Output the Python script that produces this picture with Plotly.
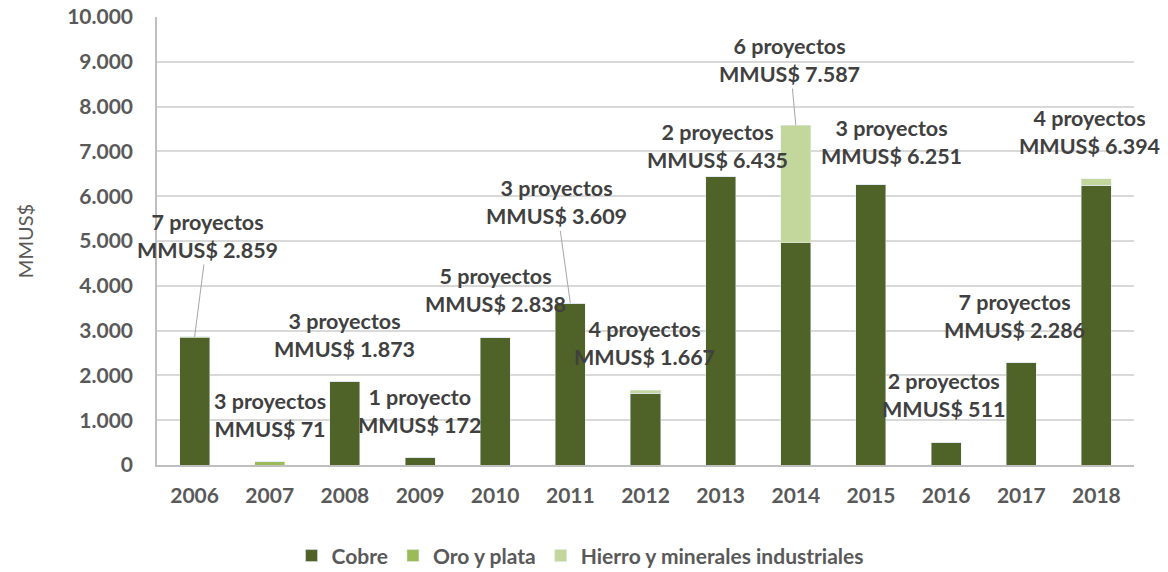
import plotly.graph_objects as go

years = ["2006", "2007", "2008", "2009", "2010", "2011", "2012",
         "2013", "2014", "2015", "2016", "2017", "2018"]
cobre = [2835, 0, 1873, 172, 2838, 3609, 1600, 6435, 4960, 6251, 511, 2286, 6250]
oro_plata = [24, 71, 0, 0, 0, 0, 0, 0, 0, 0, 0, 0, 0]
hierro = [0, 0, 0, 0, 0, 0, 67, 0, 2627, 0, 0, 0, 144]
proyectos = [7, 3, 3, 1, 5, 3, 4, 2, 6, 3, 2, 7, 4]
totales = [2859, 71, 1873, 172, 2838, 3609, 1667, 6435, 7587, 6251, 511, 2286, 6394]

# label placement (pixels, relative to bar top)
lab_dx = [13, 0, 0, 0, 0, -14, -1, -3, -6, 21, -2, -7, -7]
lab_dy = [101, 47, 46, 46, 48, 101, 47, 31, 65, 43, 47, 47, 47]
leader = [True, False, False, False, False, True, False, False, True, False, False, False, False]

FONT = "Lato"
TXT = "#404040"
GRAY = "#595959"

fig = go.Figure()
fig.add_bar(x=years, y=cobre, name="Cobre", marker_color="#4f6228")
fig.add_bar(x=years, y=oro_plata, name="Oro y plata", marker_color="#9bbb59")
fig.add_bar(x=years, y=hierro, name="Hierro y minerales industriales", marker_color="#c3d69b")

def fmt(v):
    return f"{v:,}".replace(",", ".")

for i, yr in enumerate(years):
    p = proyectos[i]
    txt = f"{p} proyecto" + ("" if p == 1 else "s") + f"<br>MMUS$ {fmt(totales[i])}"
    f = dict(family=FONT, size=21.5, color=TXT, weight="bold")
    if leader[i]:
        fig.add_annotation(x=i, y=totales[i], text=txt, showarrow=True,
                           ax=lab_dx[i], ay=-lab_dy[i], arrowhead=0, arrowwidth=1,
                           arrowcolor="#a6a6a6", standoff=0, font=f)
    else:
        fig.add_annotation(x=i, y=totales[i], text=txt, showarrow=False,
                           xshift=lab_dx[i], yshift=lab_dy[i], font=f)

fig.update_layout(
    barmode="stack",
    bargap=0.6,
    width=1168, height=572,
    margin=dict(l=157, r=34, t=17, b=107, autoexpand=False),
    plot_bgcolor="white", paper_bgcolor="white",
    separators=",.",
    font=dict(family=FONT, color=GRAY),
    legend=dict(orientation="h", x=0.433, xanchor="center", y=-0.203, yanchor="middle",
                font=dict(family=FONT, size=21, color=GRAY, weight="bold"),
                traceorder="normal"),
    xaxis=dict(type="category", range=[-0.5, 12.5], showline=True, linecolor="#bfbfbf",
               linewidth=1.5, automargin=False, ticklabelstandoff=11,
               tickfont=dict(family=FONT, size=21, color=GRAY, weight="bold"),
               ticks="", showgrid=False),
    yaxis=dict(range=[0, 10000], dtick=1000, tickformat=",d", automargin=False,
               showline=True, linecolor="#bfbfbf", linewidth=1.5, ticklabelstandoff=18,
               gridcolor="#d9d9d9", gridwidth=1.5, zeroline=False,
               tickfont=dict(family=FONT, size=21, color=GRAY, weight="bold"),
               title=dict(text="MMUS$", font=dict(family=FONT, size=20, color=GRAY),
                          standoff=28)),
)

fig.write_html("out.html", config={"displayModeBar": False},
               post_script="document.body.style.margin='0';")
